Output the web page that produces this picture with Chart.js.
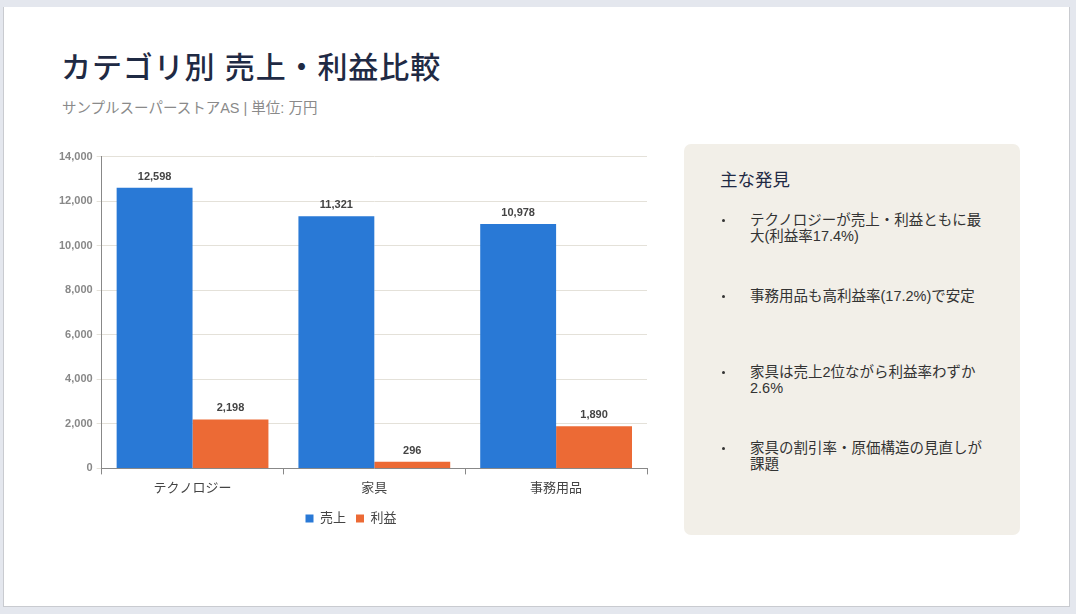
<!DOCTYPE html>
<html lang="ja">
<head>
<meta charset="utf-8">
<script src="https://cdn.jsdelivr.net/npm/chart.js@4"></script>
<style>
  html,body{margin:0;padding:0;}
  body{width:1076px;height:614px;background:#e4e7ee;position:relative;overflow:hidden;
       font-family:"Liberation Sans","Noto Sans CJK JP",sans-serif;}
  .card{position:absolute;left:3px;top:7px;width:1067px;height:600px;background:#fff;
        border-left:1px solid #c9cbd0;border-bottom:1px solid #c9cbd0;border-right:1px solid #c9cbd0;box-sizing:border-box;}
  .title{position:absolute;left:61px;top:43px;font-size:30px;color:#1f2a44;font-weight:500;letter-spacing:0.9px;white-space:nowrap;}
  .sub{position:absolute;left:62px;top:96px;font-size:14.5px;color:#8a8a8a;white-space:nowrap;}
  .chartbox{position:absolute;left:55px;top:146px;width:604px;height:389px;}
  .panel{position:absolute;left:684px;top:144px;width:336px;height:391px;background:#f2efe8;border-radius:7px;}
  .panel h3{position:absolute;left:36px;top:22px;margin:0;font-size:17.5px;font-weight:normal;color:#1f2a44;}
  .panel ul{position:absolute;left:36px;top:68px;margin:0;padding:0;list-style:none;}
  .panel li{height:76px;position:relative;padding-left:30px;width:240px;font-size:14.5px;line-height:16px;color:#333;}
  .panel li::before{content:"";position:absolute;left:2px;top:7px;width:3px;height:3px;border-radius:50%;background:#333;}
</style>
</head>
<body>
<div class="card"></div>
<div class="title">カテゴリ別 売上・利益比較</div>
<div class="sub">サンプルスーパーストアAS | 単位: 万円</div>
<div class="chartbox"><canvas id="c"></canvas></div>
<div class="panel">
  <h3>主な発見</h3>
  <ul id="findings"></ul>
</div>
<script>
const categories = ["テクノロジー", "家具", "事務用品"];
const salesValues = [12598, 11321, 10978];
const profitValues = [2198, 296, 1890];
const seriesNames = ["売上", "利益"];
const yTicks = [0, 2000, 4000, 6000, 8000, 10000, 12000, 14000];
const findings = [
  "テクノロジーが売上・利益ともに最大(利益率17.4%)",
  "事務用品も高利益率(17.2%)で安定",
  "家具は売上2位ながら利益率わずか2.6%",
  "家具の割引率・原価構造の見直しが課題"
];

const ul = document.getElementById("findings");
findings.forEach(t => { const li = document.createElement("li"); li.textContent = t; ul.appendChild(li); });

const FONT = '"Liberation Sans","Noto Sans CJK JP",sans-serif';

const valueLabels = {
  id: "valueLabels",
  afterDatasetsDraw(chart) {
    const ctx = chart.ctx;
    ctx.save();
    ctx.font = "bold 11px " + FONT;
    ctx.fillStyle = "#444";
    ctx.textAlign = "center";
    ctx.textBaseline = "middle";
    chart.data.datasets.forEach((ds, di) => {
      const meta = chart.getDatasetMeta(di);
      meta.data.forEach((bar, i) => {
        ctx.fillText(ds.data[i].toLocaleString("en-US"), bar.x, bar.y - 11);
      });
    });
    ctx.restore();
  }
};

new Chart(document.getElementById("c"), {
  type: "bar",
  data: {
    labels: categories,
    datasets: [
      { label: seriesNames[0], data: salesValues, backgroundColor: "#2979d6", categoryPercentage: 0.835, barPercentage: 1.0 },
      { label: seriesNames[1], data: profitValues, backgroundColor: "#ec6a35", categoryPercentage: 0.835, barPercentage: 1.0 }
    ]
  },
  options: {
    responsive: true,
    maintainAspectRatio: false,
    animation: false,
    layout: { padding: { top: 5, right: 12, left: 0, bottom: 0 } },
    plugins: {
      legend: {
        position: "bottom",
        labels: { boxWidth: 8, boxHeight: 8, color: "#444", font: { size: 13, family: FONT }, padding: 10 }
      },
      tooltip: { enabled: false }
    },
    scales: {
      x: {
        grid: { drawOnChartArea: false, drawTicks: true, tickLength: 6, color: "#888" },
        border: { color: "#888" },
        ticks: { color: "#444", font: { size: 13, family: FONT }, padding: 6 }
      },
      y: {
        min: 0, max: 14000,
        afterBuildTicks(axis) { axis.ticks = yTicks.map(v => ({ value: v })); },
        grid: { color: "#e4e1d9", tickLength: 5 },
        border: { color: "#888" },
        ticks: { color: "#888", font: { size: 11, weight: "bold", family: FONT }, padding: 4,
                 callback: v => Number(v).toLocaleString("en-US") }
      }
    }
  },
  plugins: [valueLabels]
});
</script>
</body>
</html>
